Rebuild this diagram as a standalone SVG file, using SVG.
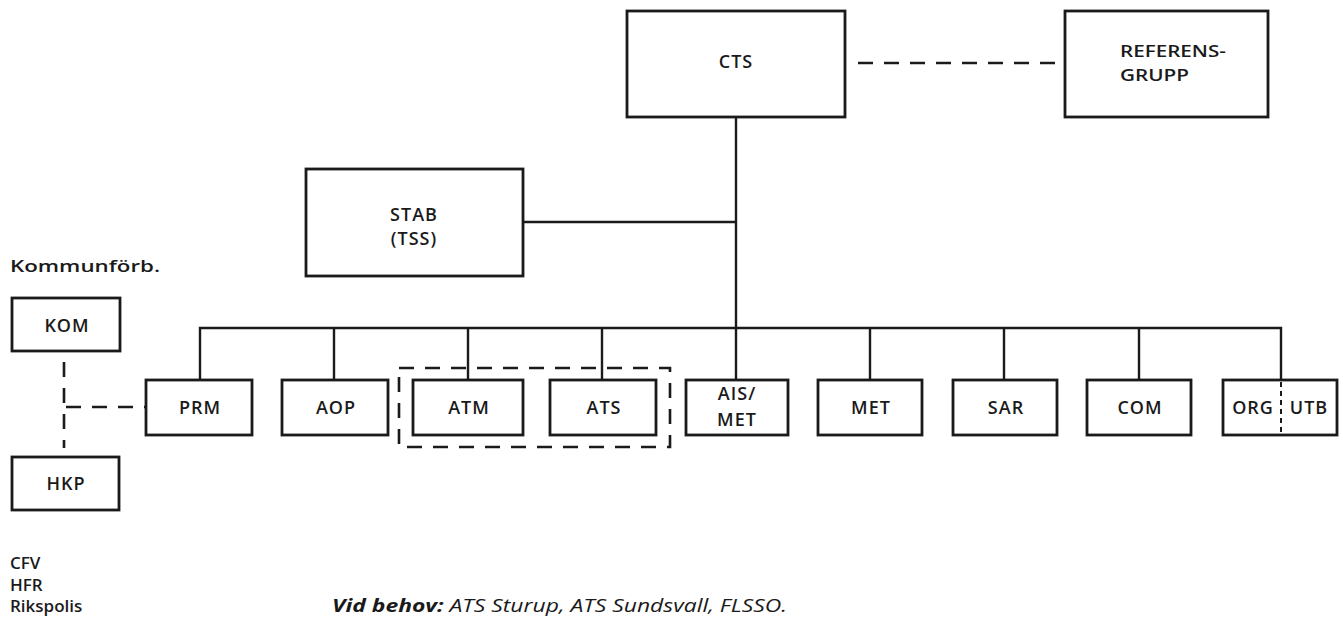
<svg xmlns="http://www.w3.org/2000/svg" width="1343" height="620" viewBox="0 0 1343 620">
<style>
.box{fill:#fff;stroke:#1a1a1a;stroke-width:2.8}
.ln{fill:none;stroke:#1a1a1a;stroke-width:2.4}
.dash{fill:none;stroke:#1a1a1a;stroke-width:2.6;stroke-dasharray:15,11}
.t{font-family:"Open Sans","Liberation Sans",sans-serif;font-weight:600;font-size:18px;letter-spacing:1px;fill:#1a1a1a;text-anchor:middle}
.tl{font-family:"Open Sans","Liberation Sans",sans-serif;font-weight:600;font-size:17px;fill:#1a1a1a}
.it{font-family:"Open Sans","Liberation Sans",sans-serif;font-style:italic;font-size:18px;fill:#1a1a1a}
</style>
<rect width="1343" height="620" fill="#fff"/>
<g id="connectors">
<path class="ln" d="M736,117 V380"/>
<path class="ln" d="M523,222 H736"/>
<path class="ln" d="M200,380 V328 H1281 V380"/>
<path class="ln" d="M334,328 V380 M468,328 V380 M602,328 V380 M870,328 V380 M1004,328 V380 M1139,328 V380"/>
<path class="dash" d="M858,63 H1062"/>
<path class="dash" d="M64,362 V448"/>
<path class="dash" d="M66,407 H145"/>
<rect class="dash" x="399" y="368" width="271" height="79"/>
</g>
<g id="CTS"><rect class="box" x="627" y="11" width="218" height="106"/><text class="t" x="736" y="68">CTS</text></g>
<g id="REFERENSGRUPP"><rect class="box" x="1065" y="11" width="203" height="106"/><text class="tl" x="1120" y="57" font-size="18" textLength="106" lengthAdjust="spacingAndGlyphs">REFERENS-</text><text class="tl" x="1120" y="81" font-size="18" textLength="69" lengthAdjust="spacingAndGlyphs">GRUPP</text></g>
<g id="STAB"><rect class="box" x="306" y="169" width="217" height="107"/><text class="t" x="414" y="221" font-size="17">STAB</text><text class="t" x="414" y="245" font-size="17">(TSS)</text></g>
<g id="KOM"><rect class="box" x="12" y="298" width="108" height="53"/><text class="t" x="67" y="332">KOM</text></g>
<g id="HKP"><rect class="box" x="12" y="457" width="107" height="53"/><text class="t" x="66" y="490">HKP</text></g>
<g id="PRM"><rect class="box" x="146" y="380" width="106" height="55"/><text class="t" x="200" y="414">PRM</text></g>
<g id="AOP"><rect class="box" x="282" y="380" width="106" height="55"/><text class="t" x="336" y="414">AOP</text></g>
<g id="ATM"><rect class="box" x="413" y="380" width="110" height="55"/><text class="t" x="469" y="414">ATM</text></g>
<g id="ATS"><rect class="box" x="550" y="380" width="106" height="55"/><text class="t" x="604" y="414">ATS</text></g>
<g id="AISMET"><rect class="box" x="686" y="380" width="102" height="55"/><text class="t" x="737" y="400">AIS/</text><text class="t" x="737" y="426">MET</text></g>
<g id="MET"><rect class="box" x="818" y="380" width="104" height="55"/><text class="t" x="871" y="414">MET</text></g>
<g id="SAR"><rect class="box" x="953" y="380" width="104" height="55"/><text class="t" x="1006" y="414">SAR</text></g>
<g id="COM"><rect class="box" x="1087" y="380" width="104" height="55"/><text class="t" x="1140" y="414">COM</text></g>
<g id="ORGUTB"><rect class="box" x="1223" y="380" width="114" height="55"/><path d="M1281,382 V433" fill="none" stroke="#1a1a1a" stroke-width="2" stroke-dasharray="5,4"/><text class="t" x="1253" y="414" letter-spacing="0">ORG</text><text class="t" x="1309" y="414" letter-spacing="0">UTB</text></g>
<g id="labels">
<text class="tl" x="10" y="272" textLength="150" lengthAdjust="spacingAndGlyphs">Kommunförb.</text>
<text class="tl" x="10" y="569">CFV</text>
<text class="tl" x="10" y="591">HFR</text>
<text class="tl" x="10" y="612">Rikspolis</text>
<text class="it" x="332" y="612" textLength="455" lengthAdjust="spacingAndGlyphs"><tspan font-weight="700">Vid behov:</tspan> ATS Sturup, ATS Sundsvall, FLSSO.</text>
</g>
</svg>
